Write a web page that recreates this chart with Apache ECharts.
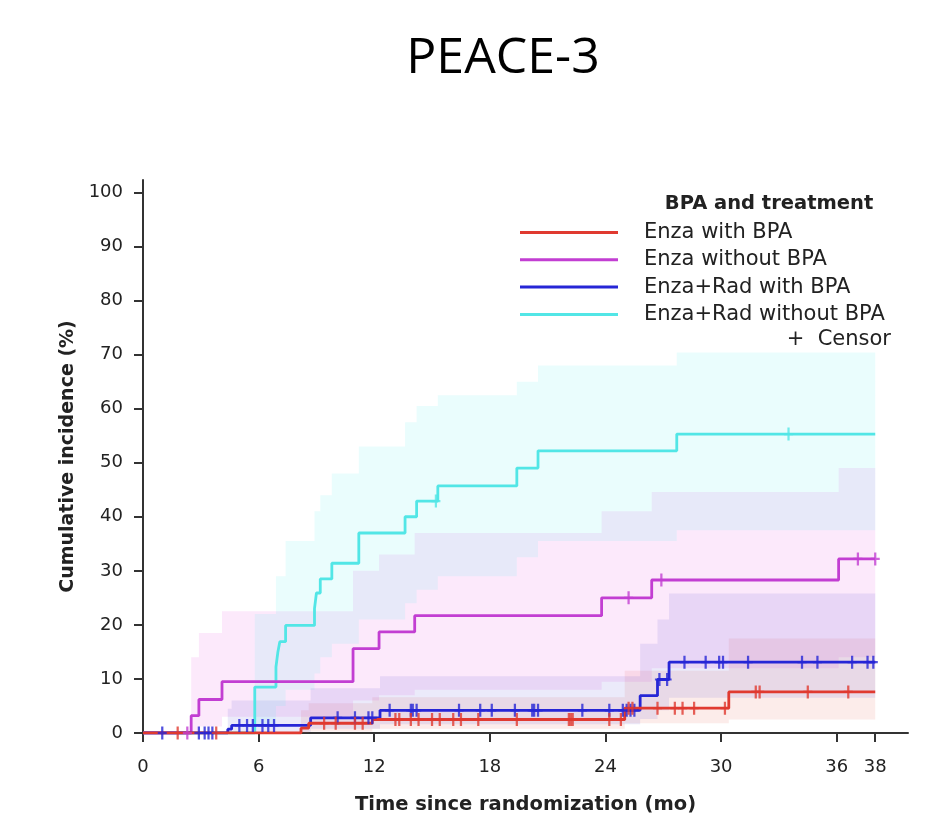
<!DOCTYPE html>
<html>
<head>
<meta charset="utf-8">
<script src="https://cdn.jsdelivr.net/npm/echarts@6/dist/echarts.min.js"></script>
<style>
  html, body { margin: 0; padding: 0; background: #fff; }
  #chart { width: 950px; height: 838px; }
</style>
</head>
<body>
<div id="chart"></div>
<script>
const seriesNames = ['Enza with BPA', 'Enza without BPA', 'Enza+Rad with BPA', 'Enza+Rad without BPA'];
const lineColors = ['#e03a30', '#c23ed2', '#2626d6', '#52e6e6'];
const bandColors = ['rgba(230,80,60,0.11)', 'rgba(230,70,220,0.12)', 'rgba(70,60,210,0.11)', 'rgba(80,235,235,0.12)'];

const endTime = 38;
const xTicks = [0, 6, 12, 18, 24, 30, 36, 38];
const yTicks = [0, 10, 20, 30, 40, 50, 60, 70, 80, 90, 100];

// step curves: month where each level starts, cumulative incidence (%)
const redTimes = [0, 8.2, 8.6, 11.9, 25.0, 30.4];
const redValues = [0, 0.9, 1.8, 2.5, 4.6, 7.6];
const redCensor = [1.8, 3.8, 9.4, 10.0, 11.0, 11.4, 13.1, 13.3, 13.9, 14.3, 15.0, 15.4, 16.1, 16.5, 17.4, 19.4,
  22.1, 22.2, 22.3, 24.2, 24.8, 25.2, 25.4, 26.7, 27.6, 28.0, 28.6, 30.2, 31.8, 32.0, 34.5, 36.6];
const redLower = [0, 0, 0.3, 0.8, 1.8, 2.5];
const redUpper = [0, 4.2, 5.5, 6.6, 11.5, 17.5];

const magTimes = [0, 2.5, 2.9, 4.1, 10.9, 12.25, 14.1, 23.8, 26.4, 36.1];
const magValues = [0, 3.2, 6.2, 9.5, 15.6, 18.7, 21.7, 25.0, 28.3, 32.2];
const magCensor = [2.3, 25.2, 26.9, 37.1, 38.0];
const magLower = [0, 0.4, 1.2, 3, 6, 7, 8, 9.5, 12, 14];
const magUpper = [0, 14, 18.5, 22.5, 30, 33, 37, 41, 44.6, 49];

const blueTimes = [0, 4.4, 4.6, 8.7, 12.3, 25.8, 26.7, 27.3];
const blueValues = [0, 0.7, 1.4, 2.8, 4.2, 6.9, 9.9, 13.1];
const blueCensor = [1.0, 2.9, 3.2, 3.4, 3.6, 5.0, 5.4, 5.7, 6.2, 6.5, 6.8, 10.1, 11.0, 11.7, 11.9,
  12.8, 13.9, 14.0, 14.2, 16.4, 17.5, 18.1, 19.3, 20.2, 20.3, 20.5, 22.8, 24.2, 24.9, 25.1, 25.3, 25.5,
  26.8, 27.2, 28.1, 29.2, 29.9, 30.1, 31.4, 34.2, 35.0, 36.8, 37.6, 37.9];
const blueLower = [0, 0, 0.2, 0.8, 1.6, 2.6, 4.2, 6.5];
const blueUpper = [0, 4.5, 6.0, 8.3, 10.5, 16.5, 21.0, 25.8];

const cyanTimes = [0, 5.8, 6.9, 7.0, 7.1, 7.4, 8.9, 9.0, 9.2, 9.8, 11.2, 13.6, 14.2, 15.3, 19.4, 20.5, 27.7];
const cyanValues = [0, 8.5, 12.2, 15.0, 16.9, 19.9, 23.0, 25.9, 28.5, 31.4, 37.0, 40.0, 42.9, 45.7, 49.0, 52.2, 55.3];
const cyanCensor = [15.2, 33.5];
const cyanBandTimes = [0, 5.8, 6.9, 7.4, 8.9, 9.2, 9.8, 11.2, 13.6, 14.2, 15.3, 19.4, 20.5, 27.7];
const cyanLower = [0, 1.5, 5, 8, 11, 14, 16.5, 21, 24, 26.5, 29, 32.5, 35.5, 37.5];
const cyanUpper = [0, 22, 29, 35.5, 41, 44, 48, 53, 57.5, 60.5, 62.5, 65, 68, 70.4];

const FONT = 'DejaVu Sans';
const plusSymbol = 'path://M-1,-6 L1,-6 L1,-1 L4,-1 L4,1 L1,1 L1,6 L-1,6 L-1,1 L-4,1 L-4,-1 L-1,-1 Z';

function stepAt(times, values, t) {
  let v = values[0];
  for (let i = 0; i < times.length; i++) {
    if (times[i] <= t) v = values[i];
  }
  return v;
}

function stepData(times, values) {
  const d = times.map((t, i) => [t, values[i]]);
  d.push([endTime, values[values.length - 1]]);
  return d;
}

// confidence band drawn as one step-shaped polygon
function bandSeries(times, lower, upper, color) {
  return {
    type: 'custom',
    silent: true,
    z: 1,
    data: [[times[0], lower[0]]],
    renderItem: function (params, api) {
      const pts = [];
      for (let i = 0; i < times.length; i++) {
        const t1 = i + 1 < times.length ? times[i + 1] : endTime;
        pts.push(api.coord([times[i], upper[i]]), api.coord([t1, upper[i]]));
      }
      for (let i = times.length - 1; i >= 0; i--) {
        const t1 = i + 1 < times.length ? times[i + 1] : endTime;
        pts.push(api.coord([t1, lower[i]]), api.coord([times[i], lower[i]]));
      }
      return { type: 'polygon', shape: { points: pts }, style: { fill: color } };
    },
  };
}

function curveSeries(name, times, values, color) {
  return {
    name: name,
    type: 'line',
    step: 'end',
    showSymbol: false,
    z: 3,
    color: color,
    lineStyle: { width: 2.8, color: color },
    data: stepData(times, values),
  };
}

function censorSeries(name, times, values, censor, color) {
  return {
    name: name + ' censor',
    type: 'scatter',
    symbol: plusSymbol,
    symbolSize: [9, 13],
    z: 4,
    itemStyle: { color: color },
    data: censor.map((t) => [t, stepAt(times, values, t)]),
  };
}

const myChart = echarts.init(document.getElementById('chart'));

const option = {
  animation: false,
  backgroundColor: '#fff',
  grid: { left: 143, right: 42, top: 180, bottom: 105 },
  xAxis: {
    type: 'value',
    min: 0,
    max: 39.7,
    name: 'Time since randomization (mo)',
    nameLocation: 'middle',
    nameGap: 62,
    nameTextStyle: { fontFamily: FONT, fontWeight: 'bold', fontSize: 19.5, color: '#222' },
    axisLine: { show: true, onZero: false, lineStyle: { color: '#333', width: 2 } },
    axisTick: { show: true, length: 9, customValues: xTicks, lineStyle: { color: '#333', width: 2 } },
    axisLabel: { customValues: xTicks, margin: 25, fontFamily: FONT, fontSize: 18, color: '#222' },
    splitLine: { show: false },
  },
  yAxis: {
    type: 'value',
    min: 0,
    max: 102.3,
    name: 'Cumulative incidence (%)',
    nameLocation: 'middle',
    nameGap: 64,
    nameTextStyle: { fontFamily: FONT, fontWeight: 'bold', fontSize: 19, color: '#222' },
    axisLine: { show: true, onZero: false, lineStyle: { color: '#333', width: 2 } },
    axisTick: { show: true, length: 9, customValues: yTicks, lineStyle: { color: '#333', width: 2 } },
    axisLabel: { customValues: yTicks, margin: 20, fontFamily: FONT, fontSize: 18, color: '#222' },
    splitLine: { show: false },
  },
  legend: {
    data: seriesNames,
    orient: 'vertical',
    left: 520,
    top: 222,
    padding: 0,
    itemWidth: 98,
    itemHeight: 3,
    itemGap: 6.3,
    icon: 'rect',
    selectedMode: false,
    textStyle: { fontFamily: FONT, fontSize: 21, color: '#222', padding: [0, 0, 0, 21] },
  },
  graphic: [
    {
      type: 'text', x: 503, y: 59,
      style: { text: 'PEACE-3', font: '50px "Open Sans"', fill: '#000', textAlign: 'center', textVerticalAlign: 'middle' },
    },
    {
      type: 'text', x: 769, y: 204,
      style: { text: 'BPA and treatment', font: 'bold 19.5px "DejaVu Sans"', fill: '#222', textAlign: 'center', textVerticalAlign: 'middle' },
    },
    {
      type: 'text', x: 891, y: 340,
      style: { text: '+  Censor', font: '21px "DejaVu Sans"', fill: '#222', textAlign: 'right', textVerticalAlign: 'middle' },
    },
  ],
  series: [
    bandSeries(redTimes, redLower, redUpper, bandColors[0]),
    bandSeries(magTimes, magLower, magUpper, bandColors[1]),
    bandSeries(blueTimes, blueLower, blueUpper, bandColors[2]),
    bandSeries(cyanBandTimes, cyanLower, cyanUpper, bandColors[3]),
    curveSeries(seriesNames[3], cyanTimes, cyanValues, lineColors[3]),
    curveSeries(seriesNames[1], magTimes, magValues, lineColors[1]),
    curveSeries(seriesNames[2], blueTimes, blueValues, lineColors[2]),
    curveSeries(seriesNames[0], redTimes, redValues, lineColors[0]),
    censorSeries(seriesNames[3], cyanTimes, cyanValues, cyanCensor, lineColors[3]),
    censorSeries(seriesNames[1], magTimes, magValues, magCensor, lineColors[1]),
    censorSeries(seriesNames[2], blueTimes, blueValues, blueCensor, lineColors[2]),
    censorSeries(seriesNames[0], redTimes, redValues, redCensor, lineColors[0]),
  ],
};

myChart.setOption(option);
</script>
</body>
</html>
